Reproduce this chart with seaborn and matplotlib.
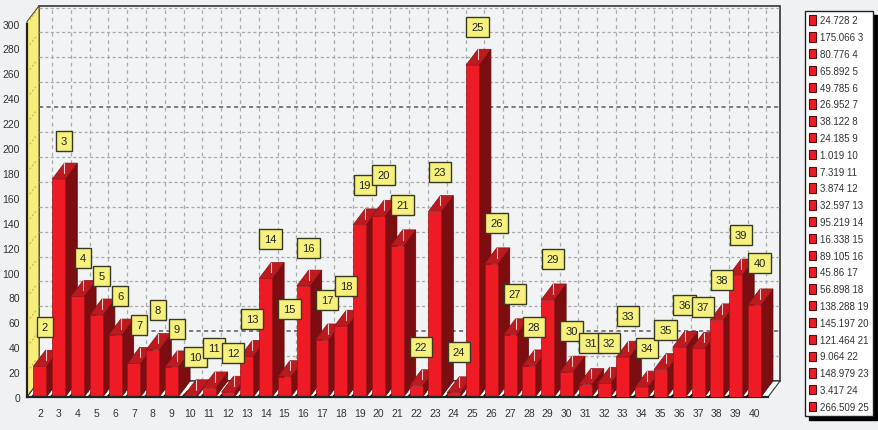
import matplotlib
matplotlib.use('Agg')
import matplotlib.pyplot as plt
from matplotlib.patches import Polygon, Rectangle
import seaborn as sns

categories = [str(i) for i in range(2, 41)]
values = [24.728, 175.066, 80.776, 65.892, 49.785, 26.952, 38.122, 24.185, 1.019, 7.319,
          3.874, 32.597, 95.219, 16.338, 89.105, 45.86, 56.898, 138.288, 145.197, 121.464,
          9.064, 148.979, 3.417, 266.509, 107, 50, 25, 78, 20, 10,
          11, 32, 8, 22, 40, 39, 62, 98, 74]
legend_labels = ['24.728 2', '175.066 3', '80.776 4', '65.892 5', '49.785 6', '26.952 7',
                 '38.122 8', '24.185 9', '1.019 10', '7.319 11', '3.874 12', '32.597 13',
                 '95.219 14', '16.338 15', '89.105 16', '45.86 17', '56.898 18', '138.288 19',
                 '145.197 20', '121.464 21', '9.064 22', '148.979 23', '3.417 24', '266.509 25']
y_ticks = list(range(0, 301, 20))

# height of each yellow tag, in axis units
tag_heights = [56, 206, 112, 97, 81, 58, 70, 55, 32, 39, 35, 63, 127, 71, 120, 78, 89, 170, 178,
               154, 40, 181, 36, 297, 140, 83, 56, 111, 53, 43, 43, 65, 39, 54, 74, 72, 94, 130, 108]

RED = '#ee1b24'
RED_TOP = '#bd1a20'
RED_SIDE = '#7c0d10'
BG = '#eff1f3'
DX = 0.64   # 3d depth in category units
DY = 12.8   # 3d depth in value units
BAR_W = 0.69
XL, XR = -0.69, 38.72

sns.set_theme(style='white')
plt.rcParams['font.family'] = ['Liberation Sans', 'DejaVu Sans']

fig = plt.figure(figsize=(8.79, 4.31), dpi=100, facecolor=BG)
ax = fig.add_axes([27 / 879, 33 / 431, 741 / 879, 373.5 / 431])
ax.patch.set_visible(False)

sns.barplot(x=categories, y=values, order=categories, color=RED, saturation=1,
            width=BAR_W, ax=ax, zorder=10)
ax.set_xlim(XL, XR)
ax.set_ylim(0, 300)

# walls and floor
ax.add_patch(Rectangle((XL + DX, DY), XR - XL, 300 + 1.5, fc='#f1f3f4', ec='#333333', lw=1.2,
                       clip_on=False, zorder=1))
ax.add_patch(Polygon([(XL, 0), (XL + DX, DY), (XL + DX, 300 + DY + 1.5), (XL, 300 + 1.5)],
                     fc='#f6ee78', ec='#555533', lw=0.8, clip_on=False, zorder=2))
ax.add_patch(Polygon([(XL, 0), (XR, 0), (XR + DX, DY), (XL + DX, DY)],
                     fc='white', ec='#333333', lw=0.8, clip_on=False, zorder=2))

# grid on back wall, plus ticks on the yellow wall
for v in y_ticks[1:]:
    dark = v in (40, 220)
    ax.plot([XL + DX, XR + DX], [v + DY, v + DY], color='#666666' if dark else '#ababab',
            lw=1.2 if dark else 0.9, ls=(0, (2.5, 2)), clip_on=False, zorder=3)
    ax.plot([XL + 0.15, XL + DX - 0.15], [v + 3, v + DY - 3], color='#b5ad55', lw=0.7,
            ls=(0, (2, 2)), clip_on=False, zorder=3)
for i in range(len(categories)):
    ax.plot([i + DX, i + DX], [DY, 300 + DY], color='#ababab', lw=0.9, ls=(0, (3, 3)),
            clip_on=False, zorder=3)

# extrude the seaborn bars, left to right so each one hides the last one's side
for i, bar in enumerate(ax.patches[:len(values)]):
    x0 = bar.get_x()
    x1 = x0 + bar.get_width()
    h = bar.get_height()
    z = 10 + i
    ax.add_patch(Polygon([(x1, 0), (x1 + DX, DY), (x1 + DX, h + DY), (x1, h)],
                         fc=RED_SIDE, ec='#5a0a0c', lw=0.5, clip_on=False, zorder=z))
    ax.add_patch(Polygon([(x0, h), (x0 + DX, h + DY), (x1 + DX, h + DY), (x1, h)],
                         fc=RED_TOP, ec='#8c1216', lw=0.5, clip_on=False, zorder=z))
    ax.plot([x0 + DX, x0 + DX], [h + 5, h + DY], color='#f3c9c9', lw=0.8, clip_on=False, zorder=z + 0.2)
    ax.plot([x0 - 0.08, x0 + 0.2], [0, DY * 0.35], color='#111111', lw=1.4, clip_on=False, zorder=z - 0.5)
    bar.set_edgecolor('#a01218')
    bar.set_linewidth(0.5)
    bar.set_zorder(z + 0.1)

# yellow tags
for i, (name, tag) in enumerate(zip(categories, tag_heights)):
    ax.text(i + 0.27, tag, name, ha='center', va='center', fontsize=8, color='#222222', zorder=60,
            clip_on=False, bbox=dict(boxstyle='square,pad=0.45', fc='#f6f07c', ec='#3a3a22', lw=1.0))

ax.set_yticks(y_ticks)
ax.set_xticks(range(len(categories)))
ax.set_xticklabels(categories)
ax.tick_params(axis='both', labelsize=7.5, length=3, width=0.8, color='#333333', labelcolor='#333333', pad=2)
ax.tick_params(axis='x', pad=5)
ax.set_xlabel('')
ax.set_ylabel('')
for side in ('top', 'right'):
    ax.spines[side].set_visible(False)
for side in ('left', 'bottom'):
    ax.spines[side].set_color('#222222')
    ax.spines[side].set_linewidth(1.6)
    ax.spines[side].set_zorder(40)

# legend panel
handles = [Rectangle((0, 0), 1, 1, fc=RED, ec='#5a0a0c', lw=0.8) for _ in legend_labels]
leg = fig.legend(handles, legend_labels, loc='upper left', bbox_to_anchor=(805 / 879, 1 - 12 / 431),
                 borderaxespad=0, fontsize=7, handlelength=0.7, handleheight=1.1, handletextpad=0.4,
                 labelspacing=0.7, borderpad=0.45, fancybox=False, framealpha=1,
                 edgecolor='#222222', facecolor='white', shadow={'color': 'black', 'alpha': 1, 'ox': 3, 'oy': -3})
for t in leg.get_texts():
    t.set_color('#333333')

fig.savefig('out.png', dpi=100, facecolor=BG)
